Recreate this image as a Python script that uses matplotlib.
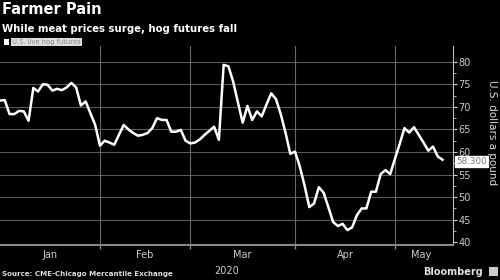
import numpy as np
import matplotlib.pyplot as plt

# U.S. live hog futures, one value per trading day, Jan 2 - May 15 2020
prices = [71.4, 71.5, 68.4, 68.4, 69.1, 69.0, 66.9, 74.2, 73.4, 75.0,
          74.9, 73.6, 74.0, 73.7, 74.3, 75.3, 74.3, 70.3, 71.2, 68.6,
          66.0, 61.4, 62.5, 62.1, 61.6, 63.8, 66.0, 65.0, 64.2, 63.6,
          63.8, 64.2, 65.3, 67.5, 67.1, 67.1, 64.5, 64.5, 64.9, 62.5,
          61.9, 62.1, 62.8, 63.8, 64.7, 65.6, 62.7, 79.3, 79.0, 75.6,
          71.0, 66.5, 70.2, 67.1, 69.0, 67.9, 70.5, 73.0, 71.7, 68.4,
          64.3, 59.6, 60.1, 56.8, 52.6, 47.8, 48.6, 52.2, 51.0, 47.8,
          44.5, 43.6, 44.1, 42.7, 43.3, 46.0, 47.5, 47.5, 51.2, 51.2,
          55.1, 56.0, 55.1, 58.5, 61.8, 65.3, 64.3, 65.5, 63.8, 62.1,
          60.3, 61.2, 59.0, 58.3]
months = ['Jan', 'Feb', 'Mar', 'Apr', 'May']
days_in_month = [21, 19, 22, 21, 11]
last_label = '58.300'

x = np.arange(len(prices))
starts = np.concatenate([[0], np.cumsum(days_in_month)[:-1]])
mids = starts + np.array(days_in_month) / 2

fig = plt.figure(figsize=(5, 2.8), dpi=100, facecolor='black')
ax = fig.add_axes([0.0, 0.125, 0.906, 0.711], facecolor='black')

ax.plot(x, prices, color='white', linewidth=1.8, solid_joinstyle='round')
ax.set_xlim(0, 95.2)
ax.set_ylim(39.4, 83.5)

ax.set_yticks(np.arange(40, 81, 5))
ax.set_yticks(np.arange(42.5, 81, 5), minor=True)
ax.yaxis.tick_right()
ax.tick_params(axis='y', which='both', colors='#cccccc', labelsize=7,
               direction='out', length=3, pad=1)
ax.tick_params(axis='y', which='minor', length=2)
for v in np.arange(45, 81, 5):
    ax.axhline(v, color='#5a5a5a', linewidth=0.8, zorder=0)

ax.set_xticks(starts[1:])
ax.set_xticklabels([])
ax.tick_params(axis='x', colors='#888888', length=3, width=1)
for s in starts[1:]:
    ax.axvline(s, color='#6a6a6a', linewidth=0.8, zorder=0)
for m, lab in zip(mids, months):
    ax.text(m, -0.025, lab, transform=ax.get_xaxis_transform(), ha='center',
            va='top', color='#cccccc', fontsize=7)
ax.text(0.5, -0.105, '2020', transform=ax.transAxes, ha='center', va='top',
        color='#cccccc', fontsize=7)

for side in ['top', 'left']:
    ax.spines[side].set_visible(False)
ax.spines['bottom'].set_color('#888888')
ax.spines['bottom'].set_linewidth(1.5)
ax.spines['right'].set_color('#bbbbbb')
ax.spines['right'].set_linewidth(0.8)

ax.annotate(last_label, xy=(1.0, prices[-1]), xycoords=('axes fraction', 'data'),
            xytext=(2.5, -1.6), textcoords='offset points', ha='left', va='center',
            color='#777777', fontsize=6.3,
            bbox=dict(boxstyle='square,pad=0.12', fc='white', ec='white'))

fig.text(0.984, 0.525, 'U.S. dollars a pound', rotation=270, ha='center',
         va='center', color='#dddddd', fontsize=7.5)

fig.text(0.004, 0.965, 'Farmer Pain', color='white', fontsize=10.5,
         fontweight='bold', va='center', ha='left')
fig.text(0.004, 0.895, 'While meat prices surge, hog futures fall', color='white',
         fontsize=7.3, fontweight='bold', va='center', ha='left')

fig.patches.append(plt.Rectangle((0.007, 0.84), 0.01, 0.02, transform=fig.transFigure,
                                 fc='white', ec='none'))
fig.text(0.024, 0.85, 'U.S. live hog futures', color='#888888', fontsize=4.9,
         va='center', ha='left',
         bbox=dict(boxstyle='square,pad=0.15', fc='#dddddd', ec='none'))

fig.text(0.004, 0.022, 'Source: CME-Chicago Mercantile Exchange', color='#dddddd',
         fontsize=5.1, fontweight='bold', va='center', ha='left')
fig.text(0.966, 0.03, 'Bloomberg', color='#dddddd', fontsize=7,
         fontweight='bold', va='center', ha='right')
fig.patches.append(plt.Rectangle((0.978, 0.015), 0.018, 0.032, transform=fig.transFigure,
                                 fc='#cccccc', ec='none'))

fig.savefig('out.png', dpi=100, facecolor='black')
